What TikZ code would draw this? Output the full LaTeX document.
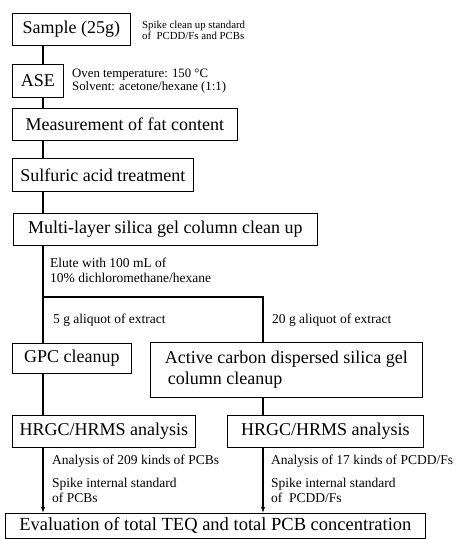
\documentclass[tikz,border=0pt]{standalone}
\usepackage{fontspec}
\setmainfont{Liberation Serif}
\usetikzlibrary{arrows.meta}

\begin{document}
\begin{tikzpicture}[x=1pt,y=-1pt]
	\tikzstyle{box}=[draw=black,line width=0.7pt,anchor=north west,inner sep=0pt,font=\fontsize{18}{21}\selectfont]
	\tikzstyle{note}=[anchor=west,align=left,inner sep=0pt,font=\fontsize{13.5}{15}\selectfont]
	\tikzstyle{link}=[line width=1.3pt]
	\useasboundingbox (0,0) rectangle (458,539);
	% boxes
	\node[box,minimum width=118pt,minimum height=32pt](sample) at (12,13) {Sample (25g)};
	\node[box,minimum width=51pt,minimum height=33pt](ase) at (12,64) {ASE};
	\node[box,minimum width=225pt,minimum height=32pt](fat) at (12,108) {Measurement of fat content};
	\node[box,minimum width=181pt,minimum height=33pt](acid) at (12,158) {Sulfuric acid treatment};
	\node[box,minimum width=304pt,minimum height=32pt](silica) at (13,213) {Multi-layer silica gel column clean up};
	\node[box,minimum width=119pt,minimum height=30pt](gpc) at (12,343) {GPC cleanup};
	\node[box,minimum width=272pt,minimum height=55pt,align=left](carbon) at (150,342) {Active carbon dispersed silica gel\\\hspace{3pt}column cleanup};
	\node[box,minimum width=183pt,minimum height=32pt](hrgcL) at (12,415) {HRGC/HRMS analysis};
	\node[box,minimum width=196pt,minimum height=32pt](hrgcR) at (227,415) {HRGC/HRMS analysis};
	\node[box,minimum width=420pt,minimum height=25pt,font=\fontsize{18.5}{21}\selectfont](teq) at (5,513) {Evaluation of total TEQ and total PCB concentration};
	% side notes
	\node[note,font=\fontsize{10.8}{11}\selectfont](spike) at (142,30) {Spike clean up standard\\of~ PCDD/Fs and PCBs};
	\node[note,font=\fontsize{12.8}{13}\selectfont](oven) at (72,81) {Oven temperature: 150 °C\\Solvent: acetone/hexane (1:1)};
	\node[note](elute) at (50,270) {Elute with 100 mL of\\10\% dichloromethane/hexane};
	\node[note](fiveg) at (53,320) {5 g aliquot of extract};
	\node[note](twentyg) at (272,320) {20 g aliquot of extract};
	\node[note](anaL) at (52,461) {Analysis of 209 kinds of PCBs};
	\node[note](stdL) at (52,490) {Spike internal standard\\of PCBs};
	\node[note](anaR) at (271,461) {Analysis of 17 kinds of PCDD/Fs};
	\node[note](stdR) at (271,490) {Spike internal standard\\of~ PCDD/Fs};
	% connectors
	\coordinate (split) at (43,297);
	\coordinate (splitR) at (263,297);
	\foreach \a/\b in {sample/ase,ase/fat,fat/acid,acid/silica,gpc/hrgcL}
		\draw[link] (\a.south -| split) -- (\b.north -| split);
	\draw[link] (silica.south -| split) -- (split) -- (gpc.north -| split);
	\draw[link] (split) -- (splitR) -- (carbon.north -| splitR);
	\draw[link] (carbon.south -| splitR) -- (hrgcR.north -| splitR);
	\draw[link,-{Latex[length=6pt,width=4.5pt]}] (hrgcL.south -| split) -- (teq.north -| split);
	\draw[link,-{Latex[length=6pt,width=4.5pt]}] (hrgcR.south -| splitR) -- (teq.north -| splitR);
\end{tikzpicture}
\end{document}
